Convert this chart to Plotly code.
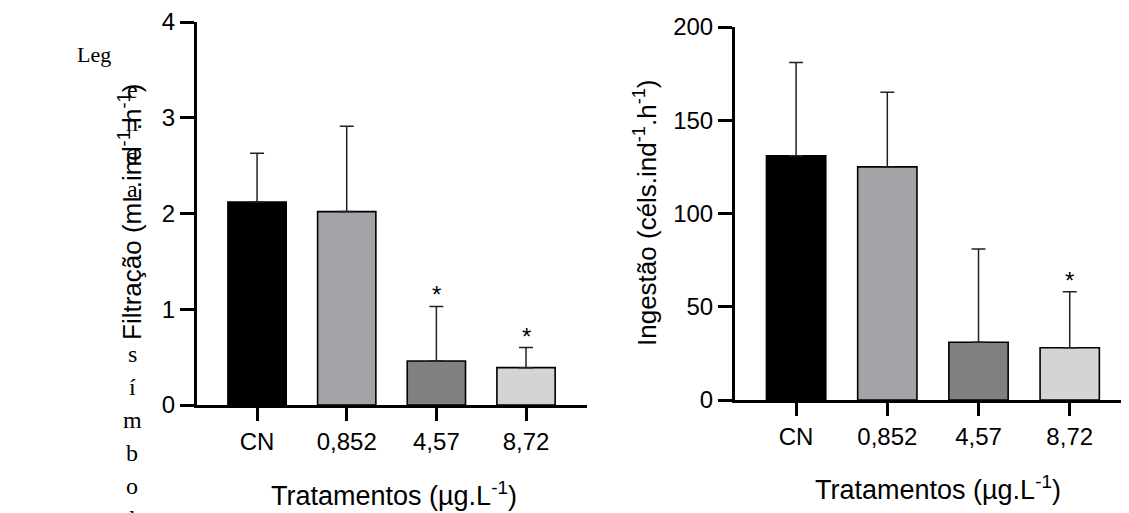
import plotly.graph_objects as go

# ---- data ----
categories = ["CN", "0,852", "4,57", "8,72"]
bar_colors = ["#000000", "#A3A3A8", "#808080", "#D4D4D4"]

filtracao_mean = [2.12, 2.02, 0.46, 0.39]
filtracao_err = [0.51, 0.89, 0.57, 0.21]
filtracao_sig = ["", "", "*", "*"]

ingestao_mean = [131, 125, 31, 28]
ingestao_err = [50, 40, 50, 30]
ingestao_sig = ["", "", "", "*"]

y1_ticks = [0, 1, 2, 3, 4]
y2_ticks = [0, 50, 100, 150, 200]

# stray text fragments visible in the reference (wrapped word from the page)
stray_top = ["e", "n", "d", "a"]
stray_bottom = ["s", "í", "m", "b", "o", "l"]

OFF = 8  # page body margin in the rendered page
W, H = 1129 - OFF, 513 - OFF
SANS = "Liberation Sans"
SERIF = "Liberation Serif"


def px_x(p):
    return (p - OFF) / W


def px_y(p):
    return (H - (p - OFF)) / H


fig = go.Figure()

for means, errs, xa, ya in [
    (filtracao_mean, filtracao_err, "x", "y"),
    (ingestao_mean, ingestao_err, "x2", "y2"),
]:
    fig.add_trace(
        go.Bar(
            x=categories,
            y=means,
            width=0.65,
            marker=dict(color=bar_colors, line=dict(color="black", width=1.6)),
            error_y=dict(
                type="data",
                symmetric=False,
                array=errs,
                arrayminus=[0] * len(errs),
                color="#222222",
                thickness=1.5,
                width=7,
            ),
            xaxis=xa,
            yaxis=ya,
            showlegend=False,
        )
    )

axis_common = dict(
    showline=True,
    linewidth=3,
    linecolor="black",
    ticks="outside",
    tickwidth=3,
    tickcolor="black",
    showgrid=False,
    zeroline=False,
    automargin=False,
    tickfont=dict(family=SANS, size=24, color="black"),
)

fig.update_layout(
    template="none",
    width=W,
    height=H,
    autosize=False,
    margin=dict(l=0, r=0, t=0, b=0, pad=0),
    paper_bgcolor="white",
    plot_bgcolor="white",
    showlegend=False,
    xaxis=dict(
        type="category",
        domain=[px_x(197), px_x(587)],
        range=[-0.67, 3.68],
        ticklen=13,
        anchor="y",
        **axis_common,
    ),
    yaxis=dict(
        domain=[px_y(405), px_y(22)],
        range=[0, 4],
        tickvals=y1_ticks,
        ticklen=14,
        anchor="x",
        **axis_common,
    ),
    xaxis2=dict(
        type="category",
        domain=[px_x(735), 1.0],
        range=[-0.67, 3.65],
        ticklen=13,
        anchor="y2",
        **axis_common,
    ),
    yaxis2=dict(
        domain=[px_y(400), px_y(27)],
        range=[0, 200],
        tickvals=y2_ticks,
        ticklen=14,
        anchor="x2",
        **axis_common,
    ),
)

ann = []
# significance stars
for means, errs, sig, xr, yr in [
    (filtracao_mean, filtracao_err, filtracao_sig, "x", "y"),
    (ingestao_mean, ingestao_err, ingestao_sig, "x2", "y2"),
]:
    for c, m, e, s in zip(categories, means, errs, sig):
        if s:
            ann.append(dict(
                x=c, y=m + e, xref=xr, yref=yr, text=s, showarrow=False,
                yanchor="bottom", yshift=-4,
                font=dict(family=SANS, size=24, color="black"),
            ))

# axis titles
ann.append(dict(
    x=px_x(130), y=px_y(212), xref="paper", yref="paper", showarrow=False,
    text="Filtração (mL.ind<sup>-1</sup>.h<sup>-1</sup>)", textangle=-90,
    xanchor="center", yanchor="middle",
    font=dict(family=SANS, size=26, color="black"),
))
ann.append(dict(
    x=px_x(645), y=px_y(213), xref="paper", yref="paper", showarrow=False,
    text="Ingestão (céls.ind<sup>-1</sup>.h<sup>-1</sup>)", textangle=-90,
    xanchor="center", yanchor="middle",
    font=dict(family=SANS, size=26, color="black"),
))
ann.append(dict(
    x=px_x(394), y=px_y(494), xref="paper", yref="paper", showarrow=False,
    text="Tratamentos (µg.L<sup>-1</sup>)",
    xanchor="center", yanchor="middle",
    font=dict(family=SANS, size=27, color="black"),
))
ann.append(dict(
    x=px_x(938), y=px_y(488), xref="paper", yref="paper", showarrow=False,
    text="Tratamentos (µg.L<sup>-1</sup>)",
    xanchor="center", yanchor="middle",
    font=dict(family=SANS, size=27, color="black"),
))

# stray wrapped text
ann.append(dict(
    x=px_x(94), y=px_y(55), xref="paper", yref="paper", showarrow=False,
    text="Leg", xanchor="center", yanchor="middle",
    font=dict(family=SERIF, size=22, color="black"),
))
for i, ch in enumerate(stray_top):
    ann.append(dict(
        x=px_x(132), y=px_y(90 + 33 * i), xref="paper", yref="paper",
        showarrow=False, text=ch, xanchor="center", yanchor="middle",
        font=dict(family=SERIF, size=24, color="black"),
    ))
for i, ch in enumerate(stray_bottom):
    ann.append(dict(
        x=px_x(132), y=px_y(354 + 33 * i), xref="paper", yref="paper",
        showarrow=False, text=ch, xanchor="center", yanchor="middle",
        font=dict(family=SERIF, size=24, color="black"),
    ))

fig.update_layout(annotations=ann)

fig.write_html("out.html")
